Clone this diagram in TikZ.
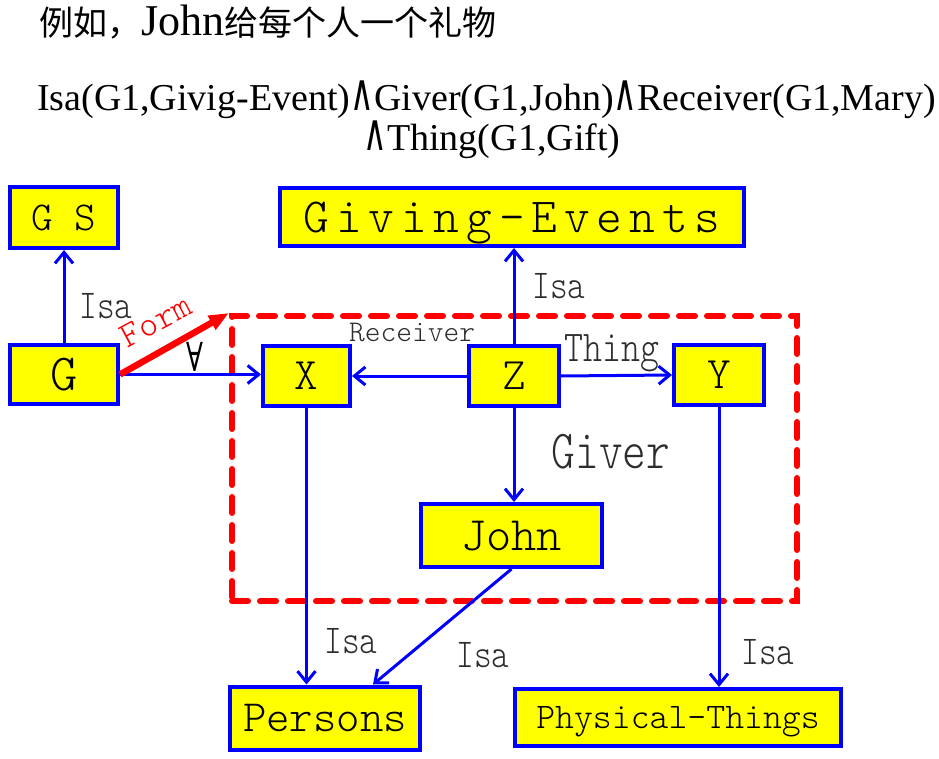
\documentclass[tikz,border=0pt]{standalone}
\usepackage{graphicx}
\usepackage{fontspec}
\setmainfont{Liberation Serif}
\newfontfamily\cjk{Noto Sans CJK SC}
\newfontfamily\mono{lmmonolt10-regular}[Extension=.otf]
\newfontfamily\lmono{lmmonolt10-regular}[Extension=.otf,FakeStretch=0.82]
\newfontfamily\gemono{lmmonolt10-regular}[Extension=.otf,LetterSpace=14]
\newfontfamily\dvs{DejaVu Sans}
\newfontfamily\dvserif{DejaVu Serif}
\usetikzlibrary{arrows.meta,calc}
\definecolor{bblue}{RGB}{0,0,255}
\definecolor{yel}{RGB}{255,255,0}
\definecolor{rred}{RGB}{255,0,0}
\definecolor{txt}{RGB}{45,45,45}
\newcommand\andsym{\scalebox{0.85}[1.35]{\dvs ∧}}
\newcommand\fs[1]{\fontsize{#1}{#1}\selectfont}
\begin{document}
\begin{tikzpicture}[x=1pt,y=-1pt,
  box/.style={draw=bblue, fill=yel, line width=4pt, inner sep=0pt, text=black, text depth=0pt},
  arr/.style={draw=bblue, line width=3pt, -{Straight Barb[length=11pt,width=18pt]}},
  lbl/.style={text=txt, inner sep=0pt},
  frame/.style={draw=rred, line width=6pt, dash pattern=on 16pt off 12pt, line cap=round, inner sep=0pt},
  formarr/.style={draw=rred, line width=6.5pt, -{Triangle[length=20pt,width=15pt]}}]
\useasboundingbox (0,0) rectangle (939,759);

% title and formula
\node[anchor=west, inner sep=0pt] (title) at (39,22) {\cjk\fs{34}例如，{\rmfamily\fs{44}John}给每个人一个礼物};
\node[inner sep=0pt] (f1) at (486.5,100) {\fs{38}Isa(G1,Givig-Event)\andsym Giver(G1,John)\andsym Receiver(G1,Mary)};
\node[inner sep=0pt] (f2) at (492,140) {\fs{38}\andsym Thing(G1,Gift)};

% frame
\node[frame, minimum width=565pt, minimum height=285pt] (frame) at (514.5,458.5) {};

% boxes
\node[box, minimum width=108pt, minimum height=61pt, font=\mono\fs{41}] (GS) at (64,217.5) {G S};
\node[box, minimum width=464pt, minimum height=58pt, font=\gemono\fs{49}] (GE) at (512,217) {Giving-Events};
\node[box, minimum width=108pt, minimum height=59pt, font=\mono\fs{52}] (G) at (64,374.5) {G};
\node[box, minimum width=87pt, minimum height=60pt, font=\mono\fs{45}] (X) at (306.5,376) {X};
\node[box, minimum width=90pt, minimum height=60pt, font=\mono\fs{45}] (Z) at (514,376) {Z};
\node[box, minimum width=90pt, minimum height=60pt, font=\mono\fs{45}] (Y) at (719,375) {Y};
\node[box, minimum width=181pt, minimum height=63pt, font=\mono\fs{48}] (John) at (511.5,535.5) {John};
\node[box, minimum width=190pt, minimum height=63pt, font=\mono\fs{44.6}] (Persons) at (325,718) {Persons};
\node[box, minimum width=326pt, minimum height=57pt, font=\mono\fs{36}] (PT) at (678,717.5) {Physical-Things};

% connectors
\draw[arr] (G.north) -- (GS.south);
\draw[arr] (G.east) -- (G.east -| X.west);
\draw[formarr] (G.east) -- (frame.north west);
\draw[arr] (Z.north) -- (Z.north |- GE.south);
\draw[arr] (Z.west) -- (X.east);
\draw[arr] (Z.east) -- (Y.west);
\draw[arr] (Z.south) -- (Z.south |- John.north);
\draw[arr] (X.south) -- (X.south |- Persons.north);
\draw[arr] (John.south) -- ($(Persons.north)+(48,0)$);
\draw[arr] (Y.south) -- (Y.south |- PT.north);

% labels
\node[lbl, font=\lmono\fs{41}] (l1) at (106,306) {Isa};
\node[lbl, font=\lmono\fs{41}] (l2) at (559,286) {Isa};
\node[lbl, font=\mono\fs{30}] (l3) at (412,332) {Receiver};
\node[lbl, font=\lmono\fs{44}, anchor=base] (l4) at (612,361) {Thing};
\node[lbl, font=\lmono\fs{55}, anchor=base] (l5) at (611,468) {Giver};
\node[lbl, font=\lmono\fs{41}] (l6) at (351,641) {Isa};
\node[lbl, font=\lmono\fs{41}] (l7) at (483,655) {Isa};
\node[lbl, font=\lmono\fs{41}] (l8) at (768,652) {Isa};
\node[lbl, text=rred, font=\mono\fs{36}, rotate=28] (l9) at (156,321) {Form};
\node[lbl, text=black] (l10) at (195,357) {\scalebox{0.7}[1]{\dvserif\fs{40}∀}};
\end{tikzpicture}
\end{document}
